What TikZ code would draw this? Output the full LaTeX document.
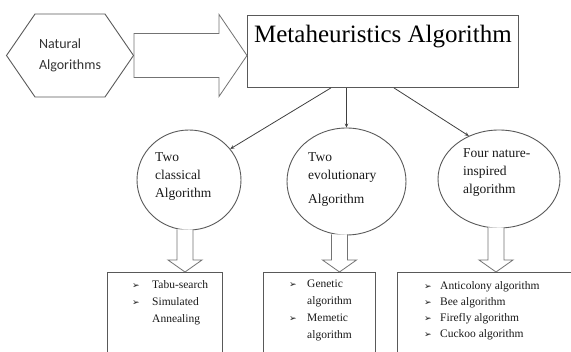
\documentclass[tikz,border=0pt]{standalone}
\usepackage{fontspec}
\setmainfont{Liberation Serif}
\newfontfamily\calfont{Carlito}
\newfontfamily\bulfont{DejaVu Sans}
\usetikzlibrary{positioning,calc,shapes.geometric,shapes.symbols,arrows.meta}
\newcommand{\itm}[1][17pt]{\makebox[#1][l]{\bulfont\fontsize{9}{9}\selectfont\char"27A2}}

\begin{document}
\begin{tikzpicture}[x=1pt,y=-1pt,
        line/.style={draw=black!65,line width=0.9pt},
        hexa/.style={line,signal,signal to=east and west,signal pointer angle=111,
            minimum width=127,minimum height=83,inner sep=0pt,align=left,
            font=\calfont\fontsize{14}{21}\selectfont,text=black!80},
        box/.style={line,rectangle,inner sep=0pt,anchor=north west},
        oval/.style={line,ellipse,fill=white,inner sep=0pt},
        fat/.style={draw=black!55,line width=0.8pt,fill=white},
        conn/.style={draw=black!75,line width=0.8pt,-{Stealth[length=4pt,width=3.5pt]}},
        txt/.style={inner sep=0pt,align=left,text=black!90,anchor=north west},
        circtext/.style={txt,font=\fontsize{13.5}{18}\selectfont},
        listtext/.style={txt,font=\fontsize{11.5}{17}\selectfont}]
\clip (0,0) rectangle (571,352);

\node[hexa] (nat) at (70,55.5) {Natural\\Algorithms};
\node[box,minimum width=271,minimum height=72] (meta) at (247,15) {};
\node[below=10pt of meta.north,inner sep=0pt,text=black,
    font=\fontsize{25}{30}\selectfont] (title) {Metaheuristics Algorithm};

% block arrow into the main box
\draw[fat] ($(nat.east)+(0,-22)$) -- ++(85,0) -- ++(0,-19) -- (meta.west |- nat.east)
    -- ++(-28,41) -- ++(0,-19) -- ($(nat.east)+(0,22)$) -- cycle;

\node[oval,minimum width=104,minimum height=100] (c1) at (189,180) {};
\node[oval,minimum width=119,minimum height=107] (c2) at (346.5,181.5) {};
\node[oval,minimum width=122,minimum height=98] (c3) at (499,179) {};

\node[circtext] (t1) at ($(c1)+(-34,-28)$) {Two\\classical\\Algorithm};
\node[circtext] (t2) at ($(c2)+(-38.5,-29.5)$) {Two\\evolutionary\\[6pt]Algorithm};
\node[circtext] (t3) at ($(c3)+(-36,-31)$) {Four nature-\\inspired\\algorithm};

\draw[conn] ($(meta.south)+(-52,0)$) -- (c1.37);
\draw[conn] (meta.south -| c2.north) -- (c2.north);
\draw[conn] ($(meta.south)+(11,0)$) -- (c3.125);

\node[box,minimum width=115,minimum height=90] (b1) at (107,272) {};
\node[box,minimum width=112,minimum height=90] (b2) at (263,272) {};
\node[box,minimum width=185,minimum height=90] (b3) at (397,272) {};

% block arrows down to the lists
\foreach \c/\b/\dx in {c1/b1/-4, c2/b2/-7, c3/b3/-3} {
    \path ($(\c.south)+(\dx,0)$) coordinate (top) (top |- \b.north) coordinate (tip);
    \draw[fat] ($(top)+(-8,-1)$) |- ($(tip)+(-17,-12)$) -- (tip)
        -- ($(tip)+(17,-12)$) -| ($(top)+(8,-1)$);
}

\node[listtext] (l1) at ($(b1.north west)+(25,8)$)
    {\itm[20pt]Tabu-search\\\itm[20pt]Simulated\\\hspace{20pt}Annealing};
\node[listtext] (l2) at ($(b2.north west)+(26,8)$)
    {\itm[18pt]Genetic\\\hspace{18pt}algorithm\\\itm[18pt]Memetic\\\hspace{18pt}algorithm};
\node[listtext,font=\fontsize{11.5}{16}\selectfont] (l3) at ($(b3.north west)+(27,9)$)
    {\itm[16pt]Anticolony algorithm\\\itm[16pt]Bee algorithm\\\itm[16pt]Firefly algorithm\\\itm[16pt]Cuckoo algorithm};
\end{tikzpicture}
\end{document}
